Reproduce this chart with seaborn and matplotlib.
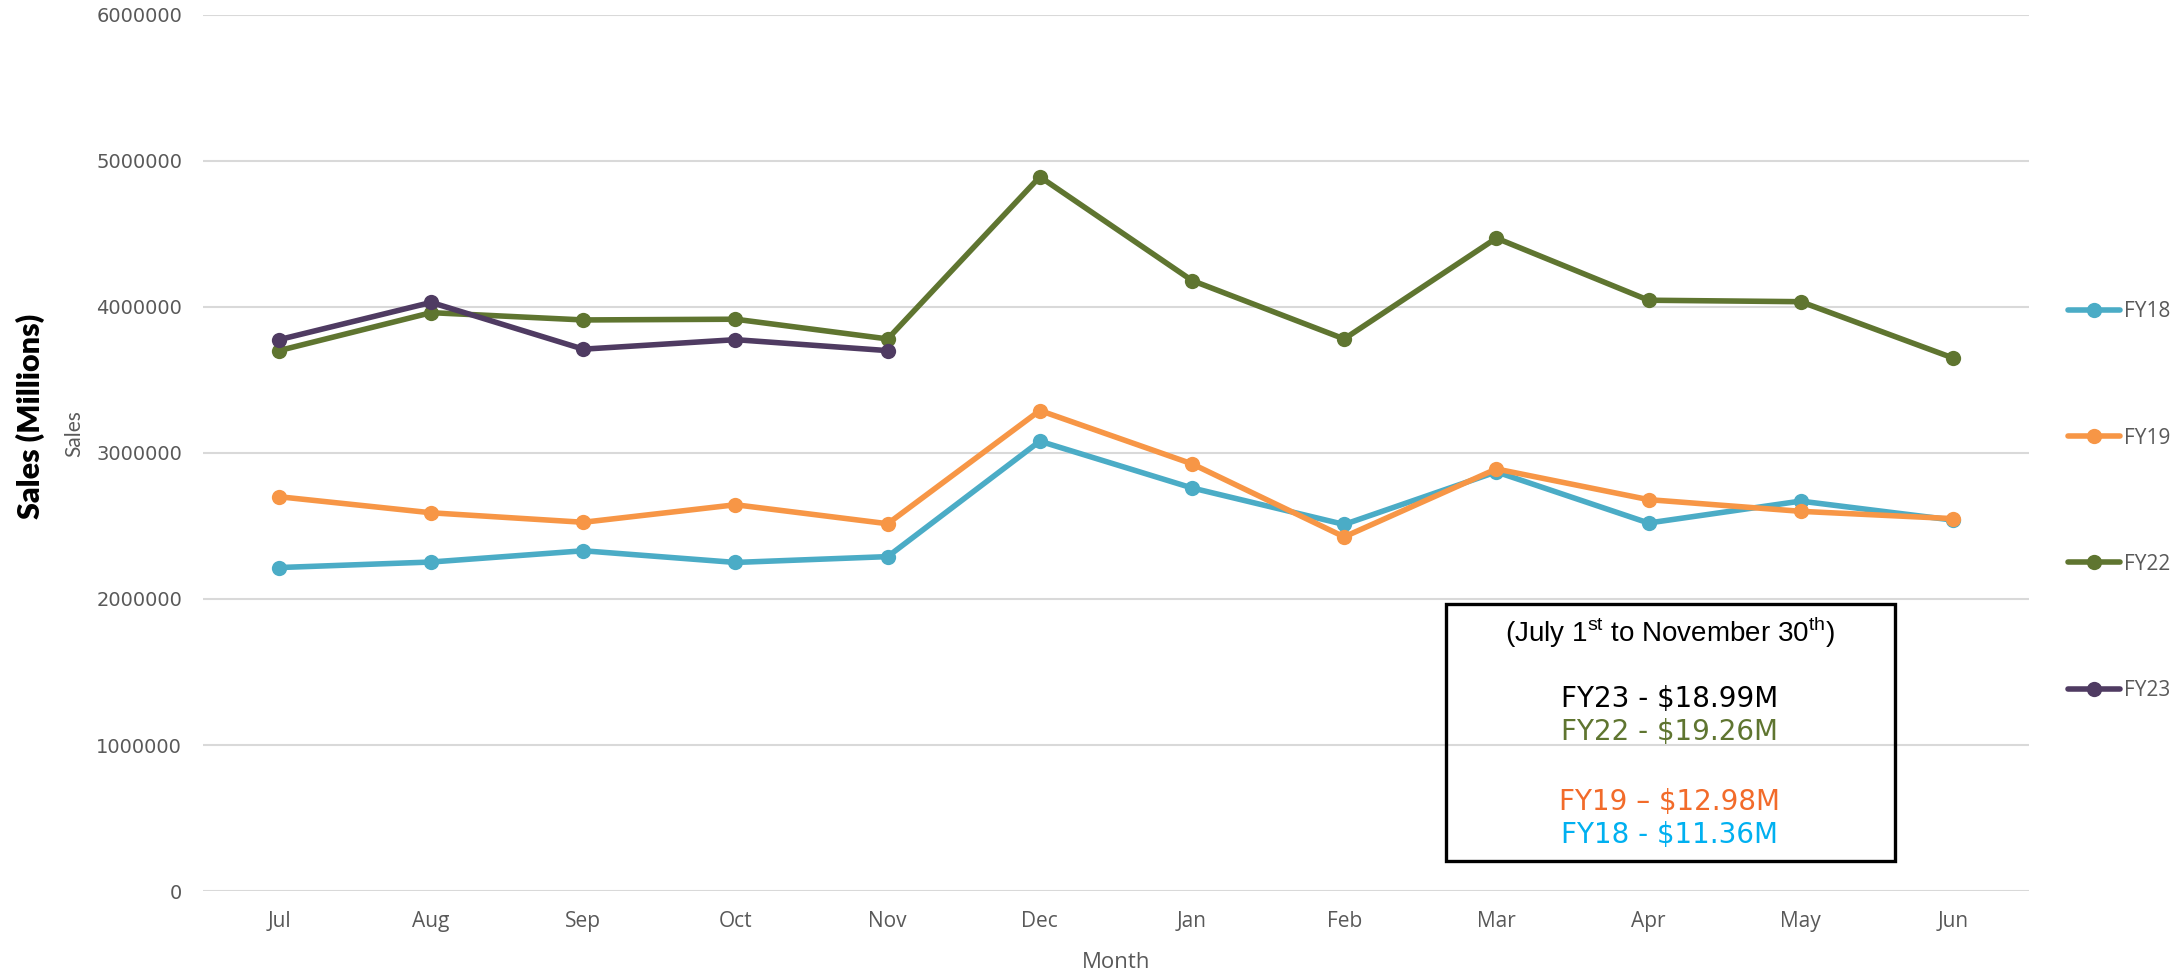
import matplotlib
matplotlib.use("Agg")
import matplotlib.pyplot as plt
from matplotlib.patches import Rectangle
import numpy as np
import pandas as pd
import seaborn as sns

# Chart data
months = ["Jul", "Aug", "Sep", "Oct", "Nov", "Dec", "Jan", "Feb", "Mar", "Apr", "May", "Jun"]
fy18 = [2215000, 2253000, 2330000, 2250000, 2290000, 3080000, 2760000, 2510000, 2870000, 2520000, 2670000, 2540000]
fy19 = [2700000, 2590000, 2525000, 2645000, 2515000, 3290000, 2925000, 2425000, 2890000, 2680000, 2600000, 2550000]
fy22 = [3700000, 3960000, 3910000, 3915000, 3780000, 4890000, 4180000, 3780000, 4470000, 4045000, 4035000, 3650000]
fy23 = [3775000, 4030000, 3710000, 3775000, 3700000]
series_names = ["FY18", "FY19", "FY22", "FY23"]
palette = {"FY18": "#4BACC6", "FY19": "#F79646", "FY22": "#5F7530", "FY23": "#4F3B62"}

# Summary box text
box_title = r"(July 1$^{\mathrm{st}}$ to November 30$^{\mathrm{th}}$)"
box_lines = ["FY23 - $18.99M", "FY22 - $19.26M", "FY19 \u2013 $12.98M", "FY18 - $11.36M"]
box_colors = ["#000000", "#5F7530", "#F26B2A", "#00B0F0"]

# long-form table
rows = []
for name, vals in zip(series_names, [fy18, fy19, fy22, fy23]):
    for m, v in zip(months, vals):
        rows.append({"Month": m, "Sales": v, "Year": name})
df = pd.DataFrame(rows)

sns.set_theme(style="white")
plt.rcParams["font.family"] = ["DejaVu Sans"]
plt.rcParams["mathtext.fontset"] = "custom"
plt.rcParams["mathtext.rm"] = "Liberation Sans"

fig = plt.figure(figsize=(21.77, 9.75), dpi=100)
ax = fig.add_axes([0.0932, 0.086, 0.8388, 0.899])

sns.lineplot(data=df, x="Month", y="Sales", hue="Year", palette=palette, sort=False,
             marker="o", markersize=11, markeredgewidth=0, linewidth=4, ax=ax)

ax.set_ylim(0, 6000000)
ax.set_yticks(np.arange(0, 6000001, 1000000))
ax.set_yticklabels([str(v) for v in range(0, 6000001, 1000000)])
ax.set_xlim(-0.5, 11.5)
ax.grid(axis="y", color="#D9D9D9", linewidth=1.5)
ax.set_axisbelow(True)
for s in ax.spines.values():
    s.set_visible(False)
ax.tick_params(axis="y", length=0, pad=15, labelsize=14, labelcolor="#595959")
ax.tick_params(axis="x", length=0, pad=14, labelcolor="#595959")
for lbl in ax.get_xticklabels():
    lbl.set_family("Open Sans")
    lbl.set_fontsize(15)

ax.set_xlabel("Month", fontsize=16, color="#595959", family="Open Sans", labelpad=15)
ax.set_ylabel("")
fig.text(0.034, 0.555, "Sales", rotation=90, ha="center", va="center",
         fontsize=15, color="#595959", family="Lato")
fig.text(0.014, 0.573, "Sales (Millions)", rotation=90, ha="center", va="center",
         fontsize=22, fontweight="heavy", color="black", family="Lato")

# legend on the right
handles, labels = ax.get_legend_handles_labels()
ax.legend_.remove()
leg = fig.legend(handles, labels, loc="center left", bbox_to_anchor=(0.945, 0.486),
                 frameon=False, labelspacing=5.05, handlelength=2.5, handletextpad=0.2,
                 borderpad=0, prop={"family": "Open Sans", "size": 15})
for t in leg.get_texts():
    t.set_color("#595959")

# summary box
fig.patches.append(Rectangle((0.6644, 0.1169), 0.2062, 0.2636, transform=fig.transFigure,
                             fill=False, edgecolor="black", linewidth=2.4, zorder=5))
fig.text(0.767, 0.3415, box_title, ha="center", va="baseline", fontsize=20,
         family="Liberation Sans", color="black")
for txt, col, y in zip(box_lines, box_colors, [0.2749, 0.2410, 0.1692, 0.1354]):
    fig.text(0.767, y, txt.replace("$", r"\$"), ha="center", va="baseline", fontsize=20,
             family="DejaVu Sans", color=col)

fig.savefig("out.png", dpi=100)
